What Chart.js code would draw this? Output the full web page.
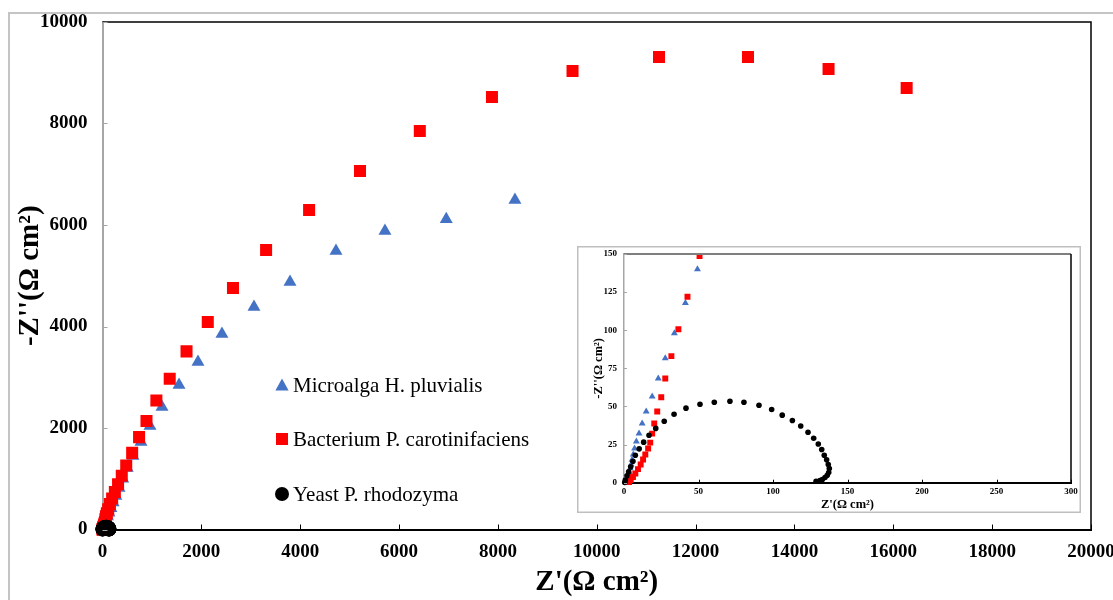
<!DOCTYPE html>
<html>
<head>
<meta charset="utf-8">
<script src="https://cdn.jsdelivr.net/npm/chart.js@4.4.1/dist/chart.umd.min.js"></script>
<style>
  html, body { margin: 0; padding: 0; background: #fff; }
  #wrap { position: relative; width: 1113px; height: 600px; overflow: hidden; }
  #main { position: absolute; left: 0; top: 0; }
  #inset { position: absolute; left: 577px; top: 246px; }
</style>
</head>
<body>
<div id="wrap">
  <canvas id="main" width="1113" height="600"></canvas>
  <canvas id="inset" width="504" height="267"></canvas>
</div>
<script>
// Series labels
const legendLabels = ['Microalga H. pluvialis', 'Bacterium P. carotinifaciens', 'Yeast P. rhodozyma'];

// Microalga H. pluvialis (Z', -Z'')
const algaX = [8345, 6955, 5715, 4724, 3794, 3065, 2417, 1932, 1548, 1204, 961, 779, 617, 500, 410, 335, 270, 215, 170, 130, 100, 78, 62,
  49.3, 41.2, 33.8, 27.7, 23, 18.9, 14.9, 12.2, 10.1, 8.3, 7.1, 6.2, 5.4, 4.7, 4.1, 3.5, 3, 2.6, 2.2, 1.9, 1.6];
const algaY = [6493, 6115, 5882, 5488, 4877, 4384, 3852, 3300, 2847, 2414, 2039, 1724, 1448, 1210, 1000, 820, 660, 530, 420, 330, 255, 200, 165,
  140, 117.8, 98, 81.6, 68.4, 56.6, 46.7, 38.8, 32.2, 27, 22.5, 18.5, 15, 12, 9.5, 7, 5, 3.5, 2, 1, 0.3];

// Bacterium P. carotinifaciens
const bactX = [16270, 14690, 13060, 11260, 9510, 7880, 6420, 5210, 4180, 3310, 2640, 2130, 1700, 1360, 1090, 890, 740, 600, 480, 390, 315, 250, 195, 150, 115, 88, 70, 58,
  50.7, 42.6, 36.5, 31.8, 27.7, 25, 22.3, 20.3, 18.9, 17.6, 16.2, 14.3, 12.8, 11.2, 9.4, 7.6, 6, 4.5, 3.4];
const bactY = [8700, 9074, 9310, 9310, 9034, 8522, 7852, 7064, 6296, 5507, 4759, 4089, 3510, 2970, 2540, 2140, 1820, 1510, 1260, 1060, 890, 740, 610, 500, 400, 320, 260, 200,
  148.7, 122, 100.7, 83, 68.4, 56, 46.7, 38.8, 32.2, 26.3, 22.4, 18.5, 15.2, 11.9, 8.9, 6, 3.8, 1.8, 0.5];

// Yeast P. rhodozyma
const yeastX = [0.5, 0.9, 2, 3.1, 4.5, 6, 7.6, 10.2, 13.2, 16.8, 21.3, 27, 33.6, 41.6, 51, 60.6, 71.1, 80.5, 90.6, 99.1, 106.2, 113, 118.6,
  123.5, 127.3, 130.4, 132.7, 134.4, 136, 137.1, 137.8, 137.4, 136.4, 134.9, 133.1, 131.5, 128.9];
const yeastY = [0.2, 1.8, 4.5, 7.1, 10.4, 14, 18, 22.2, 26.6, 31.1, 35.6, 40.3, 44.9, 48.9, 51.5, 52.8, 53.4, 52.8, 50.8, 48, 44.3, 40.8, 37.2,
  33.1, 29.2, 25.4, 21.8, 18, 15, 11.9, 9.3, 6.7, 4.9, 3.4, 2.1, 1.4, 1.0];

// Ticks
const mainXTicks = [0, 2000, 4000, 6000, 8000, 10000, 12000, 14000, 16000, 18000, 20000];
const mainYTicks = [0, 2000, 4000, 6000, 8000, 10000];
const insetXTicks = [0, 50, 100, 150, 200, 250, 300];
const insetYTicks = [0, 25, 50, 75, 100, 125, 150];

const serif = "'Times New Roman', 'Liberation Serif', serif";
const BLUE = '#4472C4';
const RED = '#FF0000';

function toPoints(xs, ys) {
  return xs.map((x, i) => ({ x: x, y: ys[i] }));
}

function buildDatasets(r) {
  return [
    { label: legendLabels[0], data: toPoints(algaX, algaY), pointStyle: 'triangle', pointRadius: r.tri, backgroundColor: BLUE, borderWidth: 0, order: 3 },
    { label: legendLabels[1], data: toPoints(bactX, bactY), pointStyle: 'rect', pointRadius: r.rect, backgroundColor: RED, borderWidth: 0, order: 2 },
    { label: legendLabels[2], data: toPoints(yeastX, yeastY), pointStyle: 'circle', pointRadius: r.circ, backgroundColor: '#000', borderWidth: 0, order: 1 },
  ];
}

function setTicks(list) {
  return scale => { scale.ticks = list.map(v => ({ value: v })); };
}

// ticks drawn inside the plot area, like Excel
function drawInsideTicks(chart, len, yColor, xColor) {
  const ctx = chart.ctx;
  const { left, bottom } = chart.chartArea;
  ctx.save();
  ctx.lineWidth = 1;
  ctx.strokeStyle = yColor;
  chart.scales.y.ticks.forEach(t => {
    const y = Math.round(chart.scales.y.getPixelForValue(t.value)) + 0.5;
    ctx.beginPath(); ctx.moveTo(left, y); ctx.lineTo(left + len, y); ctx.stroke();
  });
  ctx.strokeStyle = xColor;
  chart.scales.x.ticks.forEach(t => {
    const x = Math.round(chart.scales.x.getPixelForValue(t.value)) + 0.5;
    ctx.beginPath(); ctx.moveTo(x, bottom); ctx.lineTo(x, bottom - len); ctx.stroke();
  });
  ctx.restore();
}

function drawText(ctx, text, x, y, font, rotate) {
  ctx.save();
  ctx.translate(x, y);
  if (rotate) ctx.rotate(-Math.PI / 2);
  ctx.font = font;
  ctx.fillStyle = '#000';
  ctx.textAlign = 'center';
  ctx.textBaseline = 'middle';
  ctx.fillText(text, 0, 0);
  ctx.restore();
}

function drawMarker(ctx, style, x, y, size, color) {
  ctx.fillStyle = color;
  ctx.beginPath();
  if (style === 'triangle') {
    ctx.moveTo(x, y - size * 0.55);
    ctx.lineTo(x + size * 0.55, y + size * 0.45);
    ctx.lineTo(x - size * 0.55, y + size * 0.45);
    ctx.closePath();
  } else if (style === 'rect') {
    ctx.rect(x - size / 2, y - size / 2, size, size);
  } else {
    ctx.arc(x, y, size / 2, 0, Math.PI * 2);
  }
  ctx.fill();
}

const mainDecor = {
  id: 'mainDecor',
  beforeDraw(chart) {
    const ctx = chart.ctx;
    ctx.save();
    ctx.fillStyle = '#fff';
    ctx.fillRect(0, 0, chart.width, chart.height);
    ctx.strokeStyle = '#c4c4c4';
    ctx.lineWidth = 2;
    ctx.beginPath();
    ctx.moveTo(9, chart.height); ctx.lineTo(9, 13); ctx.lineTo(chart.width, 13);
    ctx.stroke();
    ctx.restore();
  },
  afterDraw(chart) {
    const ctx = chart.ctx;
    const { left, top, right, bottom } = chart.chartArea;
    ctx.save();
    ctx.strokeStyle = '#000';
    ctx.lineWidth = 1.5;
    ctx.beginPath();
    ctx.moveTo(left, top); ctx.lineTo(right, top); ctx.lineTo(right, bottom);
    ctx.stroke();
    ctx.restore();
    drawInsideTicks(chart, 5, '#a6a6a6', '#000');

    drawText(ctx, "Z'(\u03A9 cm\u00B2)", (left + right) / 2, 583, 'bold 29px ' + serif, false);
    drawText(ctx, "-Z''(\u03A9 cm\u00B2)", 31, (top + bottom) / 2, 'bold 29px ' + serif, true);

    // legend
    const styles = ['triangle', 'rect', 'circle'];
    const colors = [BLUE, RED, '#000'];
    const rows = [385, 439, 494];
    ctx.save();
    ctx.font = '21px ' + serif;
    ctx.textBaseline = 'middle';
    legendLabels.forEach((lbl, i) => {
      drawMarker(ctx, styles[i], 282, rows[i], i === 2 ? 14 : 12, colors[i]);
      ctx.fillStyle = '#000';
      ctx.fillText(lbl, 293, rows[i] + 1);
    });
    ctx.restore();
  }
};

const insetDecor = {
  id: 'insetDecor',
  beforeDraw(chart) {
    const ctx = chart.ctx;
    ctx.save();
    ctx.fillStyle = '#fff';
    ctx.fillRect(0, 0, chart.width, chart.height);
    ctx.strokeStyle = '#bfbfbf';
    ctx.lineWidth = 1.5;
    ctx.strokeRect(0.75, 0.75, chart.width - 1.5, chart.height - 1.5);
    ctx.restore();
  },
  afterDraw(chart) {
    const ctx = chart.ctx;
    const { left, top, right, bottom } = chart.chartArea;
    ctx.save();
    ctx.lineWidth = 2;
    ctx.strokeStyle = '#7f7f7f';
    ctx.beginPath(); ctx.moveTo(left, top); ctx.lineTo(right, top); ctx.stroke();
    ctx.lineWidth = 1.5;
    ctx.strokeStyle = '#000';
    ctx.beginPath(); ctx.moveTo(right, top); ctx.lineTo(right, bottom); ctx.stroke();
    ctx.restore();
    drawInsideTicks(chart, 3, '#a6a6a6', '#000');

    drawText(ctx, "Z'(\u03A9 cm\u00B2)", (left + right) / 2, 259, 'bold 12.5px ' + serif, false);
    drawText(ctx, "-Z''(\u03A9 cm\u00B2)", 22, (top + bottom) / 2, 'bold 12.5px ' + serif, true);
  }
};

function axis(min, max, ticks, fontSize, pad, size, borderColor, borderWidth) {
  return {
    type: 'linear', min: min, max: max,
    afterBuildTicks: setTicks(ticks),
    afterFit: s => {
      if (s.isHorizontal()) s.height = size; else s.width = size;
      s.paddingLeft = s.paddingRight = s.paddingTop = s.paddingBottom = 0;
    },
    grid: { display: false, drawTicks: false },
    border: { display: true, color: borderColor, width: borderWidth },
    ticks: {
      padding: pad, color: '#000', maxRotation: 0, autoSkip: false,
      callback: v => String(v),
      font: { family: serif, size: fontSize, weight: 'bold' }
    }
  };
}

// Main chart
new Chart(document.getElementById('main').getContext('2d'), {
  type: 'scatter',
  data: { datasets: buildDatasets({ tri: 7.5, rect: 8.5, circ: 7 }) },
  options: {
    responsive: false,
    animation: false,
    devicePixelRatio: 1,
    events: [],
    layout: { padding: { left: 0, top: 22, right: 22, bottom: 0 } },
    plugins: { legend: { display: false }, tooltip: { enabled: false } },
    datasets: { scatter: { clip: 12 } },
    scales: {
      x: axis(0, 20000, mainXTicks, 19, 11, 70.5, '#000', 2),
      y: axis(0, 10000, mainYTicks, 19, 15, 102.5, '#a6a6a6', 2)
    }
  },
  plugins: [mainDecor]
});

// Inset (zoom near origin)
new Chart(document.getElementById('inset').getContext('2d'), {
  type: 'scatter',
  data: { datasets: buildDatasets({ tri: 4, rect: 4.2, circ: 2.8 }) },
  options: {
    responsive: false,
    animation: false,
    devicePixelRatio: 1,
    events: [],
    layout: { padding: { left: 0, top: 8, right: 10, bottom: 0 } },
    plugins: { legend: { display: false }, tooltip: { enabled: false } },
    datasets: { scatter: { clip: { left: 8, top: 4, right: 0, bottom: 8 } } },
    scales: {
      x: axis(0, 300, insetXTicks, 9, 4, 30.3, '#000', 2),
      y: axis(0, 150, insetYTicks, 9, 7, 47, '#a6a6a6', 1.5)
    }
  },
  plugins: [insetDecor]
});
</script>
</body>
</html>
